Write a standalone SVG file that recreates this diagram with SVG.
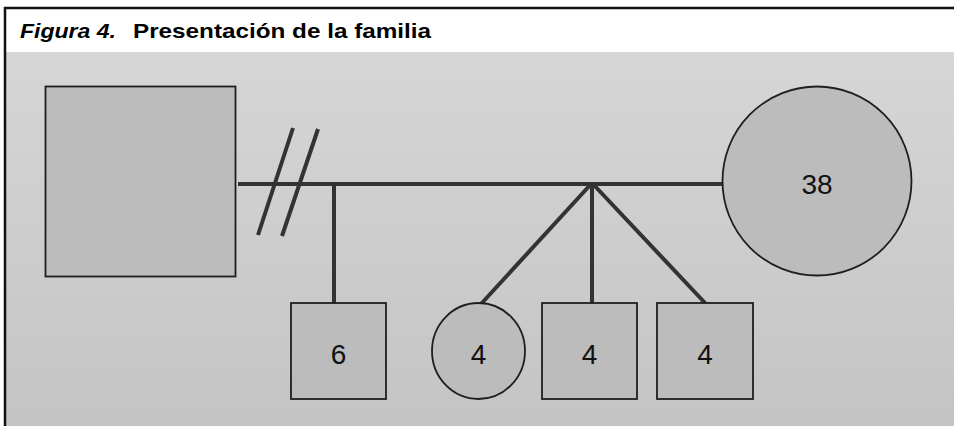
<svg xmlns="http://www.w3.org/2000/svg" width="954" height="426" viewBox="0 0 954 426">
<defs>
<linearGradient id="bg" x1="0" y1="0" x2="0" y2="1">
<stop offset="0" stop-color="#d6d6d6"/>
<stop offset="1" stop-color="#c4c4c4"/>
</linearGradient>
<style>
.node{fill:#bcbcbc;stroke:#1e1e1e;stroke-width:1.8}
.num{font-family:"Liberation Sans",Arial,sans-serif;font-size:28px;fill:#111;text-anchor:middle}
.conn{stroke:#333;stroke-width:4;fill:none;stroke-linecap:butt}
.title{font-family:"Liberation Sans",Arial,sans-serif;font-weight:bold;font-size:21px;fill:#000}
</style>
</defs>
<rect x="0" y="0" width="954" height="426" fill="#ffffff"/>
<rect x="5" y="52" width="949" height="374" fill="url(#bg)"/>
<g id="frame" stroke="#111" stroke-width="2.5" fill="none">
<line x1="4" y1="8" x2="954" y2="8"/>
<line x1="5" y1="7" x2="5" y2="426"/>
</g>
<g id="title">
<text class="title" x="20" y="37.5" font-style="italic" textLength="96" lengthAdjust="spacingAndGlyphs">Figura 4.</text>
<text class="title" x="133" y="37.5" textLength="298" lengthAdjust="spacingAndGlyphs">Presentación de la familia</text>
</g>
<g id="connectors">
<line class="conn" x1="238" y1="184" x2="723" y2="184"/>
<line class="conn" x1="293" y1="128" x2="258" y2="235" stroke-width="3.5"/>
<line class="conn" x1="318" y1="129" x2="282" y2="236" stroke-width="3.5"/>
<line class="conn" x1="334" y1="184" x2="334" y2="303"/>
<line class="conn" x1="592" y1="183" x2="481" y2="304"/>
<line class="conn" x1="592" y1="183" x2="592" y2="303"/>
<line class="conn" x1="592" y1="183" x2="706" y2="304"/>
</g>
<g id="father">
<rect class="node" x="45.5" y="86.5" width="190" height="190"/>
</g>
<g id="mother">
<circle class="node" cx="817" cy="181" r="94.5"/>
<text class="num" x="817" y="194" font-size="31">38</text>
</g>
<g id="child1">
<rect class="node" x="291" y="303" width="95" height="96"/>
<text class="num" x="338.5" y="364">6</text>
</g>
<g id="child2">
<ellipse class="node" cx="478.5" cy="351" rx="46.5" ry="48"/>
<text class="num" x="478.5" y="364">4</text>
</g>
<g id="child3">
<rect class="node" x="542" y="303" width="95" height="96"/>
<text class="num" x="589.5" y="364">4</text>
</g>
<g id="child4">
<rect class="node" x="657" y="303" width="96" height="96"/>
<text class="num" x="705" y="364">4</text>
</g>
</svg>
